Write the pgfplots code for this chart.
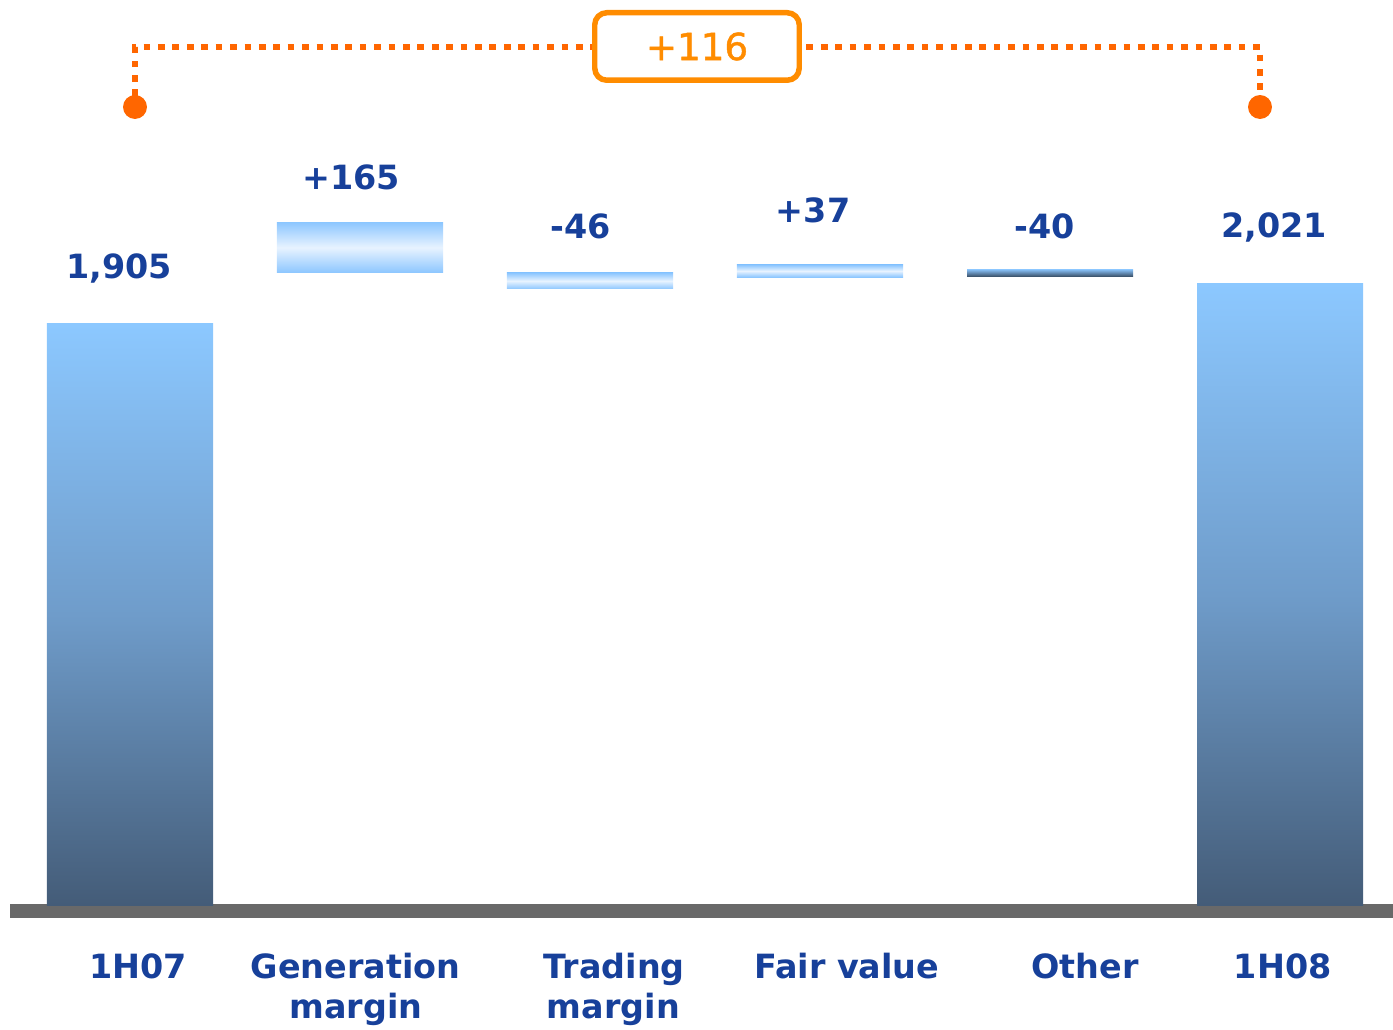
\documentclass[border=0pt]{standalone}
\usepackage{pgfplots}
\pgfplotsset{compat=1.18}
\usepackage{fontspec}
\setmainfont{DejaVu Sans}
\newfontfamily\boxfont[FakeBold=1.2]{DejaVu Sans}
\definecolor{lblue}{HTML}{17409A}
\definecolor{barTop}{HTML}{8CC8FF}
\definecolor{barBot}{HTML}{445C78}
\definecolor{barMid}{HTML}{6F9CCA}
\definecolor{flLight}{HTML}{8CC6FF}
\definecolor{flWhite}{HTML}{E8F3FF}
\definecolor{flDark}{HTML}{3E5670}
\definecolor{dotOrange}{HTML}{FF6600}
\definecolor{boxOrange}{HTML}{FF8C00}
\definecolor{baseGray}{HTML}{696969}
\begin{document}
\begin{tikzpicture}
\begin{axis}[
  scale only axis, width=13.93cm, height=10.30cm,
  xmin=-0.5652, xmax=5.4913, ymin=-112.1, ymax=2830.7,
  hide axis, clip=false,
]
% base line
\addplot[draw=none, fill=baseGray] coordinates {(-0.5217,247.9) (5.4913,247.9) (5.4913,207.9) (-0.5217,207.9)} -- cycle;
% 1H07
\addplot[draw=none, top color=barTop, bottom color=barBot, middle color=barMid] coordinates {(-0.3609,245) (0.3609,245) (0.3609,1905) (-0.3609,1905)} -- cycle;
% Generation margin
\addplot[draw=none, top color=flLight, bottom color=flLight, middle color=flWhite] coordinates {(0.6391,2051) (1.3609,2051) (1.3609,2196) (0.6391,2196)} -- cycle;
% Trading margin
\addplot[draw=none, top color=flLight, bottom color=flLight, middle color=flWhite] coordinates {(1.6391,2005) (2.3609,2005) (2.3609,2051) (1.6391,2051)} -- cycle;
% Fair value
\addplot[draw=none, top color=flLight, bottom color=flLight, middle color=flWhite] coordinates {(2.6391,2039) (3.3609,2039) (3.3609,2074) (2.6391,2074)} -- cycle;
% Other
\addplot[draw=none, top color=flLight, bottom color=flDark] coordinates {(3.6391,2042) (4.3609,2042) (4.3609,2062) (3.6391,2062)} -- cycle;
% 1H08
\addplot[draw=none, top color=barTop, bottom color=barBot, middle color=barMid] coordinates {(4.6391,245) (5.3609,245) (5.3609,2021) (4.6391,2021)} -- cycle;

% bracket
\addplot[color=dotOrange, line width=1.9pt, line cap=butt, dash pattern=on 1.9pt off 2.2pt] coordinates {(0.02174,2556.4) (0.02174,2696.4) (4.9130,2696.4) (4.9130,2556.4)};
\addplot[only marks, mark=*, mark size=3.2pt, color=dotOrange] coordinates {(0.02174,2525) (4.9130,2525)};

% value labels
\begin{scope}[every node/.style={font=\fontsize{9.5}{11}\selectfont\bfseries, text=lblue, anchor=base, inner sep=0pt}]
\node at (axis cs:-0.0478,2033.6) {1,905};
\node at (axis cs:0.9609,2287.9) {+165};
\node at (axis cs:1.9609,2149.9) {-46};
\node at (axis cs:2.9696,2194.4) {+37};
\node at (axis cs:3.9783,2149.9) {-40};
\node at (axis cs:4.9739,2151.6) {2,021};
% category labels
\node at (axis cs:0.0362,35.5) {1H07};
\node at (axis cs:0.9804,35.5) {Generation};
\node at (axis cs:0.9817,-77.9) {margin};
\node at (axis cs:2.1047,35.5) {Trading};
\node at (axis cs:2.1014,-77.9) {margin};
\node at (axis cs:3.1160,35.5) {Fair value};
\node at (axis cs:4.1520,35.5) {Other};
\node at (axis cs:5.0122,35.5) {1H08};
\end{scope}
\node[draw=boxOrange, line width=1.56pt, rounded corners=1.2mm, fill=white,
  minimum width=20.45mm, minimum height=6.75mm, inner sep=0pt,
  text=boxOrange, font=\boxfont\fontsize{10.6}{12}\selectfont]
  at (axis cs:2.4652,2697.9) {+116};
\end{axis}
\pgfresetboundingbox
\path (current axis.south west) rectangle (current axis.north east);
\end{tikzpicture}
\end{document}
